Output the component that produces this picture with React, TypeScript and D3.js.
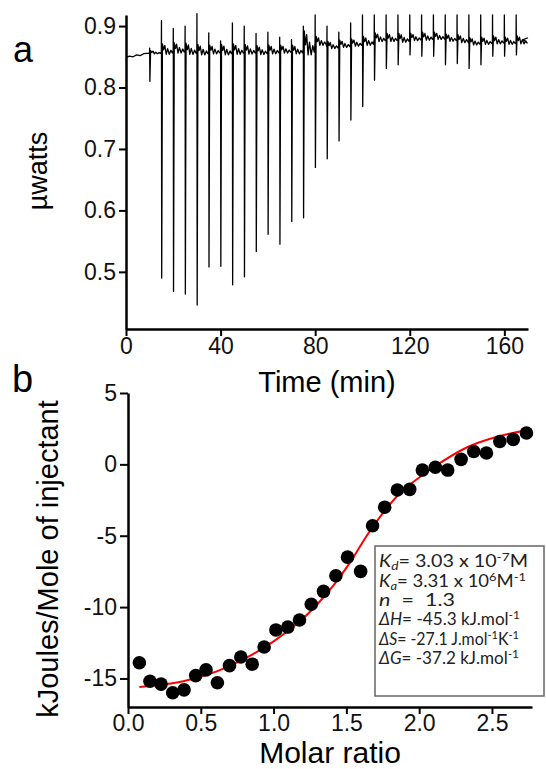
import React, { useEffect, useRef } from 'react';
import * as d3 from 'd3';

const W = 546;
const H = 769;
const FONT = "'Liberation Sans', Arial, Helvetica, sans-serif";
const BOX_FONT = "Lato, 'Open Sans', sans-serif";

// panel a - raw heat trace, one entry per injection
const injectTimes = [10, 15, 20, 25, 30, 35, 40, 45, 50, 55, 60, 65, 70, 75, 80, 85, 90, 95, 100, 105, 110, 115, 120, 125, 130, 135, 140, 145, 150, 155, 160, 165];
const injectBase = [0.856, 0.858, 0.860, 0.858, 0.857, 0.858, 0.857, 0.858, 0.858, 0.857, 0.858, 0.859, 0.858, 0.862, 0.872, 0.866, 0.868, 0.870, 0.872, 0.878, 0.878, 0.877, 0.879, 0.880, 0.881, 0.878, 0.876, 0.872, 0.873, 0.874, 0.873, 0.874];
const injectMin = [0.810, 0.490, 0.468, 0.464, 0.446, 0.508, 0.509, 0.479, 0.492, 0.533, 0.561, 0.545, 0.582, 0.588, 0.670, 0.684, 0.713, 0.747, 0.769, 0.812, 0.831, 0.837, 0.853, 0.851, 0.851, 0.837, 0.839, 0.831, 0.837, 0.851, 0.851, 0.853];
const injectMax = [0.864, 0.909, 0.896, 0.900, 0.920, 0.889, 0.876, 0.905, 0.900, 0.888, 0.890, 0.882, 0.878, 0.900, 0.918, 0.900, 0.890, 0.905, 0.918, 0.918, 0.918, 0.918, 0.918, 0.918, 0.918, 0.918, 0.918, 0.918, 0.918, 0.918, 0.918, 0.918];
const injectRing = [0.004, 0.013, 0.013, 0.014, 0.013, 0.011, 0.013, 0.013, 0.012, 0.011, 0.011, 0.010, 0.011, 0.030, 0.011, 0.009, 0.009, 0.009, 0.011, 0.011, 0.010, 0.011, 0.009, 0.010, 0.009, 0.009, 0.010, 0.009, 0.009, 0.010, 0.009, 0.010];
// settling wiggle after each injection: [minutes after, fraction of ring height]
const ringShape: [number, number][] = [[0.4, 1], [0.9, 0.25], [1.4, 0.8], [2.0, -0.3], [2.6, 0.4], [3.3, -0.3], [4.0, 0.2], [4.6, -0.15]];
const traceStart: [number, number][] = [[0, 0.849], [1.5, 0.851], [3, 0.850], [4.5, 0.853], [6, 0.852], [7.5, 0.855], [9.8, 0.856]];
const traceEnd: [number, number][] = [[168, 0.878], [170, 0.881]];

const timeTicks = [0, 40, 80, 120, 160];
const powerTicks = [0.5, 0.6, 0.7, 0.8, 0.9];

// panel b - integrated heats
const molarRatio = [0.078, 0.151, 0.227, 0.307, 0.385, 0.465, 0.536, 0.614, 0.697, 0.775, 0.853, 0.935, 1.016, 1.098, 1.178, 1.259, 1.343, 1.428, 1.508, 1.598, 1.680, 1.763, 1.850, 1.935, 2.022, 2.111, 2.196, 2.288, 2.375, 2.462, 2.554, 2.646, 2.737];
const heat = [-13.9, -15.2, -15.4, -16.0, -15.8, -14.8, -14.4, -15.3, -14.1, -13.5, -14.0, -12.8, -11.6, -11.4, -10.9, -9.8, -8.9, -7.8, -6.5, -7.5, -4.3, -3.0, -1.8, -1.75, -0.4, -0.2, -0.4, 0.35, 0.9, 0.8, 1.6, 1.75, 2.2];
const fitRatio = [0.078, 0.38, 0.61, 0.84, 1.0, 1.18, 1.30, 1.41, 1.53, 1.64, 1.76, 1.87, 2.10, 2.33, 2.56, 2.765];
const fitHeat = [-15.6, -15.2, -14.5, -13.4, -12.4, -11.0, -9.8, -8.5, -6.8, -5.0, -3.3, -2.0, -0.2, 1.2, 2.0, 2.45];

const ratioTicks = [0, 0.5, 1, 1.5, 2, 2.5];
const heatTicks = [5, 0, -5, -10, -15];

const xA = d3.scaleLinear().domain([0, 170]).range([126, 528]);
const yA = d3.scaleLinear().domain([0.407, 0.918]).range([329, 15]);
const xB = d3.scaleLinear().domain([0, 2.775]).range([128, 532]);
const yB = d3.scaleLinear().domain([-17, 5]).range([707, 393]);

const tracePoints = (): [number, number][] => {
    const pts: [number, number][] = [...traceStart];
    injectTimes.forEach((t, i) => {
        const b = injectBase[i];
        pts.push([t - 0.05, b], [t, injectMax[i]], [t + 0.1, injectMin[i]]);
        ringShape.forEach(([dt, k]) => pts.push([t + dt, b + k * injectRing[i]]));
    });
    return pts.concat(traceEnd);
};

const styleAxis = (g: any) => {
    g.attr('font-size', 23).attr('font-family', FONT);
    g.select('.domain').attr('stroke', '#000').attr('stroke-width', 2.5);
    g.selectAll('.tick line').attr('stroke', '#000').attr('stroke-width', 2);
    g.selectAll('.tick text').attr('fill', '#111');
};

export default function App() {
    const axTime = useRef<SVGGElement>(null);
    const axPower = useRef<SVGGElement>(null);
    const axRatio = useRef<SVGGElement>(null);
    const axHeat = useRef<SVGGElement>(null);

    useEffect(() => {
        d3.select(axTime.current)
            .call(d3.axisBottom(xA).tickValues(timeTicks).tickSize(7).tickSizeOuter(0).tickPadding(2).tickFormat(d => String(d)))
            .call(styleAxis);
        d3.select(axPower.current)
            .call(d3.axisLeft(yA).tickValues(powerTicks).tickSize(7).tickSizeOuter(0).tickPadding(3).tickFormat(d3.format('.1f')))
            .call(styleAxis);
        d3.select(axRatio.current)
            .call(d3.axisBottom(xB).tickValues(ratioTicks).tickSize(7).tickSizeOuter(0).tickPadding(1).tickFormat(d3.format('.1f')))
            .call(styleAxis);
        d3.select(axHeat.current)
            .call(d3.axisLeft(yB).tickValues(heatTicks).tickSize(8).tickSizeOuter(0).tickPadding(3).tickFormat(d => String(d)))
            .call(styleAxis);
    }, []);

    const trace = d3.line<[number, number]>()
        .x(d => xA(d[0]))
        .y(d => yA(d[1]))(tracePoints());

    const fit = d3.line<number>()
        .x(d => xB(d))
        .y((d, i) => yB(fitHeat[i]))
        .curve(d3.curveCatmullRom)(fitRatio);

    const sub = { fontSize: 11.5 };
    const fitLine = (w: number) => ({ textLength: w, lengthAdjust: 'spacingAndGlyphs' as const });

    return (
        <svg width={W} height={H} style={{ position: 'absolute', left: 0, top: 0, background: '#fff' }}>
            {/* panel a */}
            <text x={13} y={62} fontFamily={FONT} fontSize={36}>a</text>
            <path d={trace ?? ''} fill="none" stroke="#000" strokeWidth={1.3} strokeLinejoin="round" />
            <g ref={axTime} transform="translate(0,329)" />
            <g ref={axPower} transform="translate(126,0)" />
            <text x={327} y={392} textAnchor="middle" fontFamily={FONT} fontSize={29}>Time (min)</text>
            <text transform="translate(47,171) rotate(-90)" textAnchor="middle" fontFamily={FONT} fontSize={27}>µwatts</text>

            {/* panel b */}
            <text x={12} y={392} fontFamily={FONT} fontSize={38}>b</text>
            <path d={fit ?? ''} fill="none" stroke="#ff0000" strokeWidth={2} />
            {molarRatio.map((m, i) => (
                <circle key={i} cx={xB(m)} cy={yB(heat[i])} r={6.8} fill="#000" />
            ))}
            <g ref={axRatio} transform="translate(0,707)" />
            <g ref={axHeat} transform="translate(128,0)" />
            <text x={330} y={763} textAnchor="middle" fontFamily={FONT} fontSize={30}>Molar ratio</text>
            <text transform="translate(58,559) rotate(-90)" textAnchor="middle" fontFamily={FONT} fontSize={29}>kJoules/Mole of injectant</text>

            <rect x={375} y={546} width={169} height={150} fill="#fff" stroke="#666" strokeWidth={1.5} />
            <g fontFamily={BOX_FONT} fontSize={16.5} fill="#222">
                <text x={379} y={567} {...fitLine(149)}>
                    <tspan fontStyle="italic">K</tspan><tspan fontStyle="italic" {...sub} dy={3}>d</tspan>
                    <tspan dy={-3}>= 3.03 x 10</tspan><tspan {...sub} dy={-6}>-7</tspan><tspan dy={6}>M</tspan>
                </text>
                <text x={379} y={587} {...fitLine(147)}>
                    <tspan fontStyle="italic">K</tspan><tspan fontStyle="italic" {...sub} dy={3}>a</tspan>
                    <tspan dy={-3}>= 3.31 x 10</tspan><tspan {...sub} dy={-6}>6</tspan><tspan dy={6}>M</tspan>
                    <tspan {...sub} dy={-6}>-1</tspan>
                </text>
                <text x={379} y={606} {...fitLine(76)}>
                    <tspan fontStyle="italic">n</tspan><tspan>{'\u00a0 =\u00a0 1.3'}</tspan>
                </text>
                <text x={379} y={625} {...fitLine(141)}>
                    <tspan fontStyle="italic">ΔH</tspan><tspan>= -45.3 kJ.mol</tspan><tspan {...sub} dy={-6}>-1</tspan>
                </text>
                <text x={379} y={645} {...fitLine(140)}>
                    <tspan fontStyle="italic">ΔS</tspan><tspan>= -27.1 J.mol</tspan><tspan {...sub} dy={-6}>-1</tspan>
                    <tspan dy={6}>K</tspan><tspan {...sub} dy={-6}>-1</tspan>
                </text>
                <text x={379} y={664} {...fitLine(140)}>
                    <tspan fontStyle="italic">ΔG</tspan><tspan>= -37.2 kJ.mol</tspan><tspan {...sub} dy={-6}>-1</tspan>
                </text>
            </g>
        </svg>
    );
}
